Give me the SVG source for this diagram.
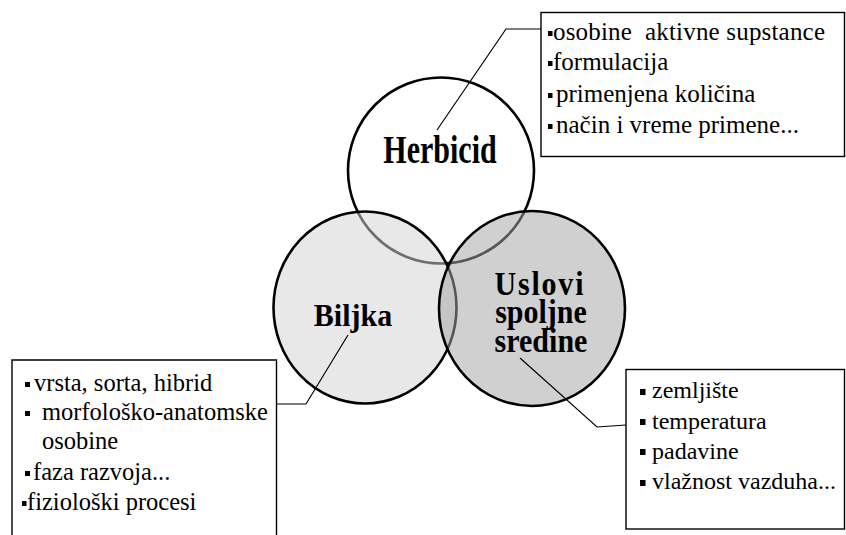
<svg xmlns="http://www.w3.org/2000/svg" width="846" height="535" viewBox="0 0 846 535">
  <style>
    .ring { stroke: #000; stroke-width: 2.6; }
    .box { fill: #fff; stroke: #000; stroke-width: 1.4; }
    .lead { fill: none; stroke: #000; stroke-width: 1.2; }
    .title { font-family: 'Liberation Serif', 'Times New Roman', serif; font-weight: bold; font-size: 30px; fill: #000; text-anchor: middle; }
    .item { font-family: 'Liberation Serif', 'Times New Roman', serif; fill: #000; }
    .dot { fill: #000; }
  </style>

  <!-- Venn shapes: opaque white first, translucent grey fills over it -->
  <g id="herbicid">
    <circle class="ring" cx="441" cy="170.5" r="93" fill="#fff"/>
  </g>
  <g id="biljka">
    <ellipse class="ring" cx="365" cy="307.5" rx="91.5" ry="96" fill="#d2d2d2" fill-opacity="0.52"/>
  </g>
  <g id="uslovi">
    <ellipse class="ring" cx="532" cy="308.5" rx="93" ry="97.5" fill="#a4a4a4" fill-opacity="0.52"/>
  </g>

  <!-- Circle labels (slightly tall, condensed bold serif) -->
  <g id="labels">
    <text class="title" transform="translate(440,163) scale(1,1.3)">Herbicid</text>
    <text class="title" transform="translate(353,326) scale(1,1.08)">Biljka</text>
    <text class="title" transform="translate(539,295) scale(1,1.12)" textLength="89" lengthAdjust="spacing">Uslovi</text>
    <text class="title" transform="translate(541,323) scale(1,1.12)">spoljne</text>
    <text class="title" transform="translate(541,352) scale(1,1.12)">sredine</text>
  </g>

  <!-- Note box: herbicide factors -->
  <g id="box-herbicid" font-size="25">
    <rect class="box" x="541" y="12.5" width="303.5" height="144"/>
    <rect class="dot" x="548" y="31" width="4.5" height="5"/>
    <text class="item" x="553" y="40" textLength="272" lengthAdjust="spacing">osobine&#160; aktivne supstance</text>
    <rect class="dot" x="548" y="61" width="4.5" height="5"/>
    <text class="item" x="553" y="70">formulacija</text>
    <rect class="dot" x="548" y="93" width="4.5" height="5"/>
    <text class="item" x="556" y="102">primenjena količina</text>
    <rect class="dot" x="548" y="124" width="4.5" height="5"/>
    <text class="item" x="556" y="133">način i vreme primene...</text>
  </g>

  <!-- Note box: plant factors -->
  <g id="box-biljka" font-size="24.5">
    <path class="box" d="M12,536 V360 H276.5 V536"/>
    <rect class="dot" x="25" y="382" width="5" height="5"/>
    <text class="item" x="34" y="391">vrsta, sorta, hibrid</text>
    <rect class="dot" x="25" y="411" width="5" height="5"/>
    <text class="item" x="42" y="420">morfološko-anatomske</text>
    <text class="item" x="42" y="449">osobine</text>
    <rect class="dot" x="25" y="471" width="5" height="5"/>
    <text class="item" x="33" y="480">faza razvoja...</text>
    <rect class="dot" x="22" y="501" width="4.5" height="5"/>
    <text class="item" x="27" y="510">fiziološki procesi</text>
  </g>

  <!-- Note box: environmental conditions -->
  <g id="box-uslovi" font-size="24">
    <rect class="box" x="626" y="369.5" width="218.5" height="159.5"/>
    <rect class="dot" x="640" y="389" width="5.5" height="6"/>
    <text class="item" x="652" y="398">zemljište</text>
    <rect class="dot" x="640" y="419" width="5.5" height="6"/>
    <text class="item" x="652" y="428.5">temperatura</text>
    <rect class="dot" x="640" y="449" width="5.5" height="6"/>
    <text class="item" x="652" y="458.5">padavine</text>
    <rect class="dot" x="640" y="480" width="5.5" height="6"/>
    <text class="item" x="652" y="489">vlažnost vazduha...</text>
  </g>

  <!-- Leader lines from circles to their note boxes -->
  <g id="connectors">
    <polyline class="lead" points="437,130 506,29 541,29"/>
    <polyline class="lead" points="348,335 306,404 276,404"/>
    <polyline class="lead" points="520,358 597,427 626,425"/>
  </g>
</svg>
